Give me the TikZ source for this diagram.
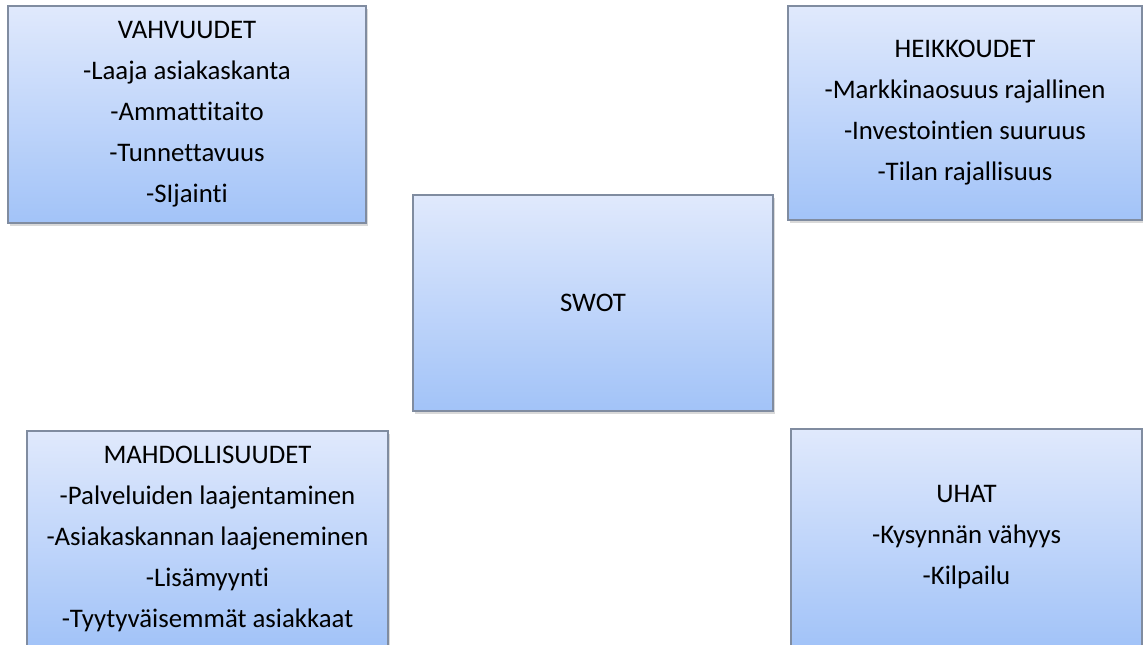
\documentclass[tikz,border=0pt]{standalone}
\usepackage{fontspec}
\setmainfont[Ligatures=NoCommon]{Carlito}
\usetikzlibrary{shadows}
\definecolor{boxtop}{RGB}{224,233,252}
\definecolor{boxbottom}{RGB}{162,195,248}
\definecolor{boxline}{RGB}{128,140,160}

\begin{document}
\begin{tikzpicture}[
    x=0.5pt, y=-0.5pt,
    swotbox/.style={draw=boxline, line width=0.6pt, top color=boxtop, bottom color=boxbottom, align=center, inner sep=0pt,
        font=\fontsize{13.4}{20.5}\selectfont,
        drop shadow={shadow xshift=1.2pt, shadow yshift=-1.6pt, opacity=0.3}}
]
\useasboundingbox (0,0) rectangle (1143,644);

\node[swotbox, minimum width=179pt, minimum height=108.5pt] (strengths) at (187,114.5)
    {VAHVUUDET\\-Laaja asiakaskanta\\-Ammattitaito\\-Tunnettavuus\\-SIjainti};
\node[swotbox, minimum width=177pt, minimum height=107pt] (weaknesses) at (965,113)
    {HEIKKOUDET\\-Markkinaosuus rajallinen\\-Investointien suuruus\\-Tilan rajallisuus};
\node[swotbox, minimum width=180pt, minimum height=108pt] (swot) at (593,303) {SWOT};
\node[swotbox, minimum width=180.5pt, minimum height=107.5pt] (opportunities) at (207.5,538.5)
    {MAHDOLLISUUDET\\-Palveluiden laajentaminen\\-Asiakaskannan laajeneminen\\-Lisämyynti\\-Tyytyväisemmät asiakkaat};
\node[swotbox, minimum width=175.5pt, minimum height=108.5pt] (threats) at (966.5,537.5)
    {UHAT\\-Kysynnän vähyys\\-Kilpailu};
\end{tikzpicture}
\end{document}
